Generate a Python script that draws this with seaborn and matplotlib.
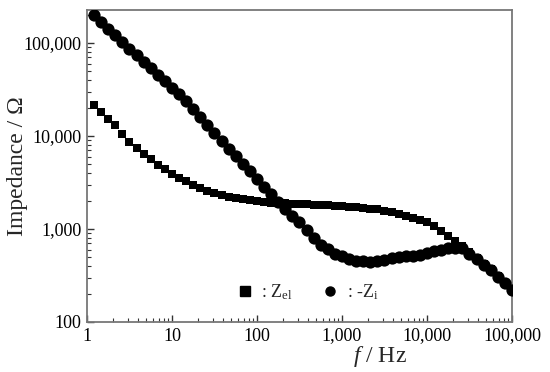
import numpy as np
import pandas as pd
import seaborn as sns
import matplotlib
matplotlib.use("Agg")
import matplotlib.pyplot as plt
from matplotlib.lines import Line2D
from matplotlib.ticker import FuncFormatter, LogLocator

# frequency (Hz), 12 points per decade
freq = [1.21, 1.47, 1.78, 2.15, 2.61, 3.16, 3.83, 4.64, 5.62, 6.81, 8.25, 10.0,
        12.1, 14.7, 17.8, 21.5, 26.1, 31.6, 38.3, 46.4, 56.2, 68.1, 82.5, 100,
        121, 147, 178, 215, 261, 316, 383, 464, 562, 681, 825, 1000,
        1210, 1470, 1780, 2150, 2610, 3160, 3830, 4640, 5620, 6810, 8250, 10000,
        12100, 14700, 17800, 21500, 26100, 31600, 38300, 46400, 56200, 68100, 82500, 100000]

# Z_el (ohm)
z_el = [21400, 18070, 15170, 12970, 10470, 8670, 7360, 6400, 5640, 4900, 4430, 3920,
        3520, 3260, 2990, 2770, 2590, 2440, 2310, 2210, 2140, 2085, 2030, 1980,
        1940, 1910, 1895, 1890, 1875, 1860, 1840, 1825, 1805, 1790, 1775, 1760,
        1740, 1715, 1690, 1655, 1620, 1570, 1520, 1455, 1395, 1325, 1260, 1180,
        1085, 960, 850, 750, 650, 560, 485, 420, 372, 316, 264, 221]

# -Z_i (ohm)
z_i = [198600, 168300, 142900, 121100, 102800, 87100, 73600, 62700, 53300, 45400, 38600, 32900,
       28000, 23600, 19450, 16000, 13150, 10820, 8890, 7310, 6040, 5000, 4150, 3440,
       2850, 2370, 1930, 1620, 1365, 1175, 968, 795, 681, 603, 541, 513,
       470, 458, 449, 445, 449, 466, 482, 498, 508, 516, 527, 553,
       573, 597, 619, 631, 617, 543, 470, 409, 359, 308, 260, 219]

x_ticks = [1, 10, 100, 1000, 10000, 100000]
y_ticks = [100, 1000, 10000, 100000]

sns.set_theme(style="ticks")
plt.rcParams['font.family'] = ['Liberation Serif', 'DejaVu Serif']
plt.rcParams['mathtext.fontset'] = 'custom'
plt.rcParams['mathtext.rm'] = 'Liberation Serif'
plt.rcParams['mathtext.it'] = 'Liberation Serif:italic'

df_el = pd.DataFrame({"f": freq, "Z": z_el})
df_i = pd.DataFrame({"f": freq, "Z": z_i})

fig = plt.figure(figsize=(5.5, 3.72), dpi=100)
ax = fig.add_axes([87/550, 1-322/372, (512-87)/550, (322-10)/372])

sns.scatterplot(data=df_el, x="f", y="Z", marker="s", s=36, color="black",
                linewidth=0, ax=ax, zorder=3)
sns.scatterplot(data=df_i, x="f", y="Z", marker="o", s=78, color="black",
                linewidth=0, ax=ax, zorder=3)

ax.set_xscale("log")
ax.set_yscale("log")
ax.set_xlim(1, 100000)
ax.set_ylim(100, 226000)

fmt = FuncFormatter(lambda v, p: f"{v:,.0f}")
ax.set_xticks(x_ticks)
ax.set_yticks(y_ticks)
ax.xaxis.set_major_formatter(fmt)
ax.yaxis.set_major_formatter(fmt)
ax.xaxis.set_minor_locator(LogLocator(base=10, subs=np.arange(2, 10), numticks=20))
ax.yaxis.set_minor_locator(LogLocator(base=10, subs=np.arange(2, 10), numticks=20))
ax.xaxis.set_minor_formatter(plt.NullFormatter())
ax.yaxis.set_minor_formatter(plt.NullFormatter())

ax.tick_params(which="both", direction="in", top=False, right=False,
               color="#333333", labelsize=13, labelcolor="black")
ax.tick_params(which="major", length=5, width=1, pad=4)
ax.tick_params(which="minor", length=3, width=0.8)

for sp in ax.spines.values():
    sp.set_color("#777777")
    sp.set_linewidth(1.3)

ax.set_xlabel("$f$ / Hz", fontsize=17)
ax.xaxis.set_label_coords(0.69, -0.07)
ax.set_ylabel("Impedance / Ω", fontsize=17)
ax.yaxis.set_label_coords(-0.138, 0.5)

handles = [Line2D([], [], marker="s", color="black", linestyle="none", markersize=6.5),
           Line2D([], [], marker="o", color="black", linestyle="none", markersize=6.5)]
labels = [": Z$_{\\rm el}$", ": -Z$_{\\rm i}$"]
ax.legend(handles, labels, loc="center", bbox_to_anchor=((307-87)/425, (322-292)/312),
          ncol=2, frameon=False, fontsize=13, handletextpad=0.4, columnspacing=1.6,
          handlelength=1.0)

fig.savefig("out.png", dpi=100)
